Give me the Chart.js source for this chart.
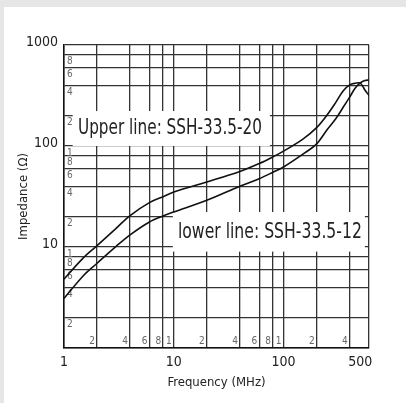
<!DOCTYPE html>
<html>
<head>
<meta charset="utf-8">
<script src="https://cdn.jsdelivr.net/npm/chart.js@4.4.0/dist/chart.umd.min.js"></script>
<style>
html, body { margin:0; padding:0; background:#e6e6e6; }
#panel { position:absolute; left:4px; top:7px; width:402px; height:396px; background:#fff; }
</style>
</head>
<body>
<div id="panel"><canvas id="myChart" width="402" height="396"></canvas></div>
<script>
// values (MHz / Ohm)
const frequencies = [1, 1.5, 2, 3, 4, 6, 8, 10, 20, 40, 60, 80, 100, 150, 200, 250, 300, 350, 400, 450, 500, 550, 600]
const upperLine = [4.8, 7.8, 10.3, 15.4, 20.5, 27.5, 31.5, 35, 44, 56, 67, 78, 89, 117, 152, 204, 272, 352, 403, 418, 420, 359, 316]
const lowerLine = [3.1, 5.2, 6.9, 10.2, 13.2, 17.7, 20.3, 22.2, 29, 40, 47.5, 55, 62, 83, 105, 146, 187, 243, 305, 375, 421, 445, 450]
const seriesNames = ["Upper line: SSH-33.5-20", "lower line: SSH-33.5-12"]

const xGridValues = [1, 2, 4, 6, 8, 10, 20, 40, 60, 80, 100, 200, 400, 500, 600]
const yGridValues = [1, 2, 4, 6, 8, 10, 20, 40, 60, 80, 100, 200, 400, 600, 800, 1000]
const xTickLabels = { 1: "1", 10: "10", 100: "100", 500: "500" }
const yTickLabels = { 10: "10", 100: "100", 1000: "1000" }
const xMinorValues = [2, 4, 6, 8, 10, 20, 40, 60, 80, 100, 200, 400]
const yMinorValues = [2, 4, 6, 8, 10, 20, 40, 60, 80, 100, 200, 400, 600, 800]

const fam = "'Liberation Sans Narrow', 'DejaVu Sans Condensed', 'Liberation Sans', sans-serif"
const gridColor = "#333"

function toPoints(vals){
  return frequencies.map((f, i) => ({ x: f, y: vals[i] }))
}

// grid digit labels inside the plot + the two white label boxes
const overlay = {
  id: "overlay",
  beforeDatasetsDraw(chart){
    const ctx = chart.ctx
    const x = chart.scales.x
    const y = chart.scales.y
    ctx.save()
    ctx.fillStyle = "#666"
    ctx.font = "10px " + fam
    ctx.textAlign = "right"
    ctx.textBaseline = "bottom"
    xMinorValues.forEach(v => ctx.fillText(String(v)[0], x.getPixelForValue(v) - 2, y.bottom - 2))
    ctx.textAlign = "left"
    ctx.textBaseline = "top"
    yMinorValues.forEach(v => ctx.fillText(String(v)[0], x.left + 3, y.getPixelForValue(v) + 2))

    const boxes = [
      { x0: 1.2, x1: 75, y0: 100, y1: 222, tx: 1.34, ty: 150 },
      { x0: 9.8, x1: 550, y0: 9, y1: 22.2, tx: 10.9, ty: 14.1 }
    ]
    boxes.forEach((b, i) => {
      const l = x.getPixelForValue(b.x0), r = x.getPixelForValue(b.x1)
      const t = y.getPixelForValue(b.y1), btm = y.getPixelForValue(b.y0)
      ctx.fillStyle = "#fff"
      ctx.fillRect(l, t, r - l, btm - t)
      ctx.fillStyle = "#222"
      ctx.font = "22px " + fam
      ctx.textBaseline = "middle"
      ctx.fillText(seriesNames[i], x.getPixelForValue(b.tx), y.getPixelForValue(b.ty), 184)
    })
    ctx.restore()
  }
}

new Chart("myChart", {
  type: "line",
  data: {
    datasets: [
      { label: seriesNames[0], data: toPoints(upperLine) },
      { label: seriesNames[1], data: toPoints(lowerLine) }
    ]
  },
  options: {
    responsive: false,
    animation: false,
    layout: { padding: { left: 0, top: 38, right: 37, bottom: 0 } },
    elements: {
      line: { borderColor: "#111", borderWidth: 1.6, tension: 0.35, fill: false },
      point: { radius: 0 }
    },
    plugins: { legend: { display: false }, tooltip: { enabled: false } },
    scales: {
      x: {
        type: "logarithmic",
        min: 1,
        max: 600,
        afterBuildTicks: axis => { axis.ticks = xGridValues.map(v => ({ value: v })) },
        afterFit: s => { s.height = 55 },
        ticks: {
          autoSkip: false, maxRotation: 0, padding: 6,
          color: "#222", font: { family: fam, size: 14 },
          callback: v => xTickLabels[v] || ""
        },
        grid: {
          drawTicks: false, lineWidth: 1.3,
          color: c => (c.tick && c.tick.value === 500) ? "rgba(0,0,0,0)" : gridColor
        },
        border: { color: "#111", width: 1.5 },
        title: { display: true, text: "Frequency (MHz)", color: "#222", font: { family: fam, size: 13 }, padding: { bottom: 13 } }
      },
      y: {
        type: "logarithmic",
        min: 1,
        max: 1000,
        afterBuildTicks: axis => { axis.ticks = yGridValues.map(v => ({ value: v })) },
        afterFit: s => { s.width = 60 },
        ticks: {
          autoSkip: false, padding: 6, labelOffset: -3,
          color: "#222", font: { family: fam, size: 14 },
          callback: v => yTickLabels[v] || ""
        },
        grid: { drawTicks: false, lineWidth: 1.3, color: gridColor },
        border: { color: "#111", width: 1.5 },
        title: { display: true, text: "Impedance (\u03a9)", color: "#222", font: { family: fam, size: 13 }, padding: { top: 12 } }
      }
    }
  },
  plugins: [overlay]
})
</script>
</body>
</html>
